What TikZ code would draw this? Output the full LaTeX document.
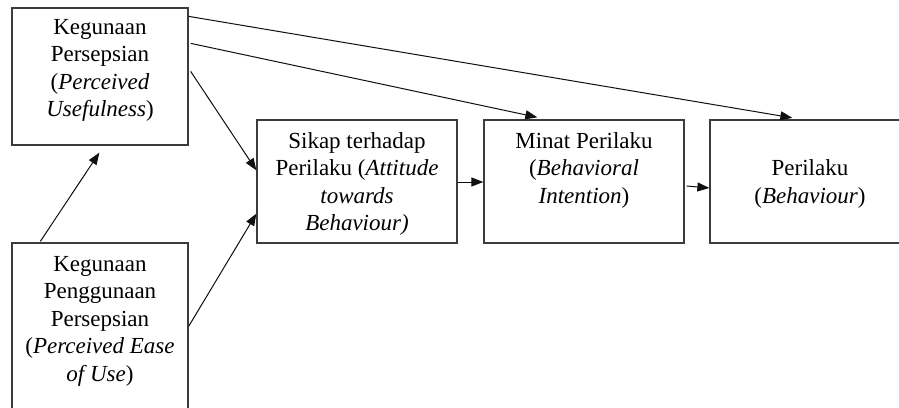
\documentclass[tikz,border=0pt]{standalone}
\usepackage{fontspec}
\setmainfont{Liberation Serif}
\usetikzlibrary{arrows.meta,calc}
\definecolor{boxgray}{HTML}{3C3C3C}
\definecolor{inkline}{HTML}{101010}
\begin{document}
\begin{tikzpicture}[x=1pt,y=-1pt,
  box/.style={draw=boxgray,line width=1.3pt,inner sep=0pt,fill=white},
  lbl/.style={align=center,font=\fontsize{23}{27.5}\selectfont,inner sep=0pt},
  link/.style={draw=inkline,line width=1pt,-{Triangle[length=12pt,width=9pt]}}]
\clip (0,0) rectangle (899,407);
\fill[white] (0,0) rectangle (899,407);

% construct boxes
\node[box,minimum width=176pt,minimum height=137pt] (pu)   at (100,76.5)  {};
\node[box,minimum width=176pt,minimum height=177pt] (peou) at (100,331.5) {};
\node[box,minimum width=200pt,minimum height=123pt] (att)  at (357,181.5) {};
\node[box,minimum width=200pt,minimum height=123pt] (int)  at (584,181.5) {};
\node[box,minimum width=200pt,minimum height=123pt] (beh)  at (810,181.5) {};

% box labels
\node[lbl] (pu-t)   at (100,70.5) {Kegunaan\\Persepsian\\(\textit{Perceived}\\\textit{Usefulness})};
\node[lbl] (peou-t) at (100,321)  {Kegunaan\\Penggunaan\\Persepsian\\(\textit{Perceived Ease}\\\textit{of Use})};
\node[lbl] (att-t)  at (357,184)  {Sikap terhadap\\Perilaku (\textit{Attitude}\\\textit{towards}\\\textit{Behaviour)}};
\node[lbl] (int-t)  at (584,170)  {Minat Perilaku\\(\textit{Behavioral}\\\textit{Intention})};
\node[lbl] (beh-t)  at (810,184)  {Perilaku\\(\textit{Behaviour})};

% paths between constructs
\draw[link] ($(pu.north east)+(0,9)$)    -- ($(beh.north west)+(83,-1.5)$);
\draw[link] ($(pu.north east)+(2,36)$)   -- ($(int.north west)+(54,-2)$);
\draw[link] ($(pu.north east)+(2,64)$)   -- ($(att.north west)+(0,51)$);
\draw[link] ($(peou.north west)+(29,-1)$) -- ($(pu.south west)+(88,7)$);
\draw[link] ($(peou.north east)+(0,84)$) -- ($(att.south west)+(0,-30)$);
\draw[link] ($(att.east)+(0,0.5)$)       -- ($(int.west)+(0,0.5)$);
\draw[link] ($(int.east)+(2,4.5)$)       -- ($(beh.west)+(0,6.5)$);
\end{tikzpicture}
\end{document}
